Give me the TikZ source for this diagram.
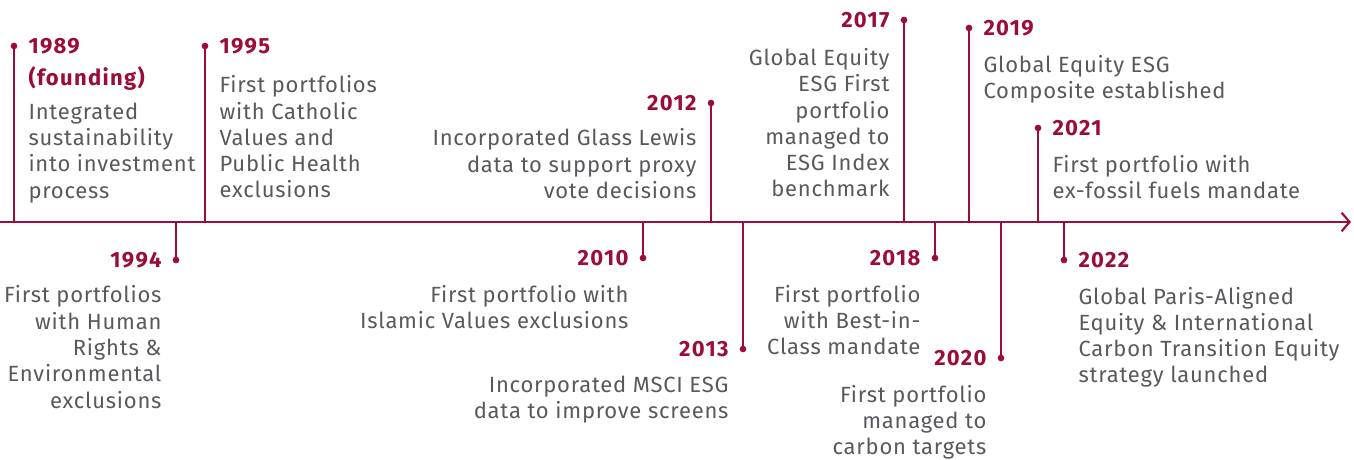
\documentclass[tikz,border=0pt]{standalone}
\usepackage{fontspec}
\setmainfont{Fira Sans}[LetterSpace=3.5]
\usepackage{xcolor}
\usetikzlibrary{arrows.meta}
\usetikzlibrary{positioning}
\definecolor{crimson}{HTML}{9B0C37}
\definecolor{ink}{HTML}{58595D}
\tikzset{
	timeline/.style = {
		x=0.75pt, y=-0.75pt,
		every node/.style={inner sep=0pt},
	},
	axis/.style = {draw=crimson, line width=1.8pt, -{Straight Barb[length=6pt,width=14pt,line width=1.6pt]}},
	stem/.style = {draw=crimson, line width=1.2pt},
	dot/.style = {circle, fill=crimson, minimum size=5pt},
	yr/.style = {font=\bfseries\fontsize{16.5}{20}\selectfont\addfontfeature{LetterSpace=6}, text=crimson},
	txt/.style = {font=\fontsize{16.5}{19.7}\selectfont, text=ink},
}

\begin{document}
\begin{tikzpicture}[timeline]
	\useasboundingbox (0,0) rectangle (1354,460);

	% time axis
	\coordinate (ax0) at (0,222);
	\coordinate (ax1) at (1351,222);

	% events
	\node[dot] (d1989) at (14,46) {};
	\node[dot] (d1994) at (176,260) {};
	\node[dot] (d1995) at (205,46) {};
	\node[dot] (d2010) at (643,258) {};
	\node[dot] (d2012) at (711,103) {};
	\node[dot] (d2013) at (743,349) {};
	\node[dot] (d2017) at (904,20) {};
	\node[dot] (d2018) at (935,258) {};
	\node[dot] (d2019) at (969,28) {};
	\node[dot] (d2020) at (1001,358) {};
	\node[dot] (d2021) at (1038,128) {};
	\node[dot] (d2022) at (1064,260) {};

	\foreach \y in {1989,1994,1995,2010,2012,2013,2017,2018,2019,2020,2021,2022}
		\draw[stem] (d\y.center) -- (d\y |- ax0);
	\draw[axis] (ax0) -- (ax1);

	% labels right of the stem
	\node[yr] (y1989) [right=8pt of d1989] {1989};
	\node[yr] (f1989) [below=9pt of y1989.south west, anchor=north west] {(founding)};
	\node[txt, align=left] (t1989) [below=9pt of f1989.south west, anchor=north west]
		{Integrated\\sustainability\\into investment\\process};

	\node[yr] (y1995) [right=8pt of d1995] {1995};
	\node[txt, align=left] (t1995) [below=16pt of y1995.south west, anchor=north west]
		{First portfolios\\with Catholic\\Values and\\Public Health\\exclusions};

	\node[yr] (y2019) [right=8pt of d2019] {2019};
	\node[txt, align=left] (t2019) [below=14pt of y2019.south west, anchor=north west]
		{Global Equity ESG\\Composite established};

	\node[yr] (y2021) [right=8pt of d2021] {2021};
	\node[txt, align=left] (t2021) [below=14pt of y2021.south west, anchor=north west]
		{First portfolio with\\ex-fossil fuels mandate};

	\node[yr] (y2022) [right=8pt of d2022] {2022};
	\node[txt, align=left] (t2022) [below=14pt of y2022.south west, anchor=north west]
		{Global Paris-Aligned\\Equity \& International\\Carbon Transition Equity\\strategy launched};

	% labels left of the stem
	\node[yr] (y1994) [left=8pt of d1994] {1994};
	\node[txt, align=right] (t1994) [below=13pt of y1994.south east, anchor=north east]
		{First portfolios\\with Human\\Rights \&\\Environmental\\exclusions};

	\node[yr] (y2010) [left=8pt of d2010] {2010};
	\node[txt, align=right] (t2010) [below=14pt of y2010.south east, anchor=north east]
		{First portfolio with\\Islamic Values exclusions};

	\node[yr] (y2012) [left=8pt of d2012] {2012};
	\node[txt, align=right] (t2012) [below=13pt of y2012.south east, anchor=north east]
		{Incorporated Glass Lewis\\data to support proxy\\vote decisions};

	\node[yr] (y2013) [left=8pt of d2013] {2013};
	\node[txt, align=right] (t2013) [below=14pt of y2013.south east, anchor=north east]
		{Incorporated MSCI ESG\\data to improve screens};

	\node[yr] (y2017) [left=8pt of d2017] {2017};
	\node[txt, align=right] (t2017) [below=15pt of y2017.south east, anchor=north east]
		{Global Equity\\ESG First\\portfolio\\managed to\\ESG Index\\benchmark};

	\node[yr] (y2018) [left=8pt of d2018] {2018};
	\node[txt, align=right] (t2018) [below=14pt of y2018.south east, anchor=north east]
		{First portfolio\\with Best-in-\\Class mandate};

	\node[yr] (y2020) [left=8pt of d2020] {2020};
	\node[txt, align=right] (t2020) [below=14pt of y2020.south east, anchor=north east]
		{First portfolio\\managed to\\carbon targets};
\end{tikzpicture}
\end{document}
